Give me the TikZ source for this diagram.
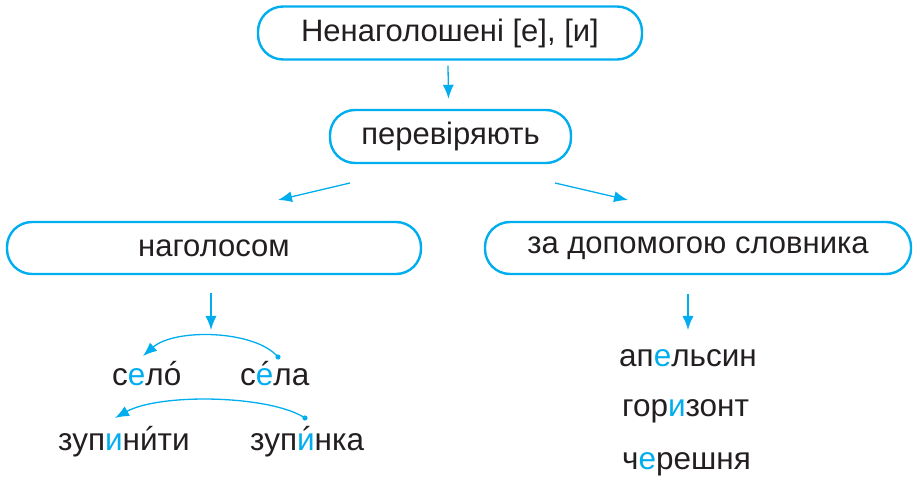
\documentclass[tikz,border=0pt]{standalone}
\usepackage{fontspec}
\setmainfont{Liberation Sans}
\usetikzlibrary{arrows.meta,calc}
\definecolor{cy}{RGB}{0,174,239}
\definecolor{txt}{RGB}{35,31,32}
\newcommand\stress[1]{\setbox0\hbox{#1}\rlap{\hbox to\wd0{\hfil\kern3pt{\color{txt}\raisebox{1pt}{\char"00B4}}\hfil}}\box0}
\newcommand\bl[1]{\textcolor{cy}{#1}}
\begin{document}
\begin{tikzpicture}[x=1pt,y=-1pt,
  box/.style={draw=cy, line width=2.4pt, rounded corners=25pt, text=txt,
    font=\fontsize{31}{36}\selectfont, inner sep=0pt, minimum height=53pt},
  arr/.style={draw=cy, line width=1.3pt, -{Latex[length=14pt,width=11pt]}},
  word/.style={text=txt, font=\fontsize{31.5}{36}\selectfont, inner sep=0pt, anchor=base west}]
\useasboundingbox (0,0) rectangle (914,478);
\node[box, minimum width=384pt] (top) at (450,33) {Ненаголошені [е], [и]};
\node[box, minimum width=241pt] (per) at (450.5,136.5) {перевіряють};
\node[box, minimum width=414pt, minimum height=52pt] (nag) at (214,248) {наголосом};
\node[box, minimum width=426pt, minimum height=52pt] (dict) at (698,248) {за допомогою словника};
% arrows
\draw[arr] ($(top.south)+(-2,5)$) -- ($(per.north)+(-2,-10)$);
\coordinate (l1) at (350,183); \coordinate (l2) at (278,200);
\coordinate (r1) at (555,183); \coordinate (r2) at (628,200);
\draw[arr] (l1) -- (l2);
\draw[arr] (r1) -- (r2);
\coordinate (ld1) at (211,293); \coordinate (ld2) at (211,330);
\coordinate (rd1) at (688,294); \coordinate (rd2) at (688,330);
\draw[arr] (ld1) -- (ld2);
\draw[arr] (rd1) -- (rd2);
% words left
\node[word] (selo) at (112,386) {с\bl{е}л\stress{о}};
\node[word] (sela) at (240,386) {с\stress{\bl{е}}ла};
\node[word] (zupynyty) at (58,451) {зуп\bl{и}н\stress{и}ти};
\node[word] (zupynka) at (250,451) {зуп\stress{\bl{и}}нка};
% words right
\node[word] (apel) at (619,367) {ап\bl{е}льсин};
\node[word] (gor) at (622,417) {гор\bl{и}зонт};
\node[word] (cher) at (622,470) {ч\bl{е}решня};
% arcs
\coordinate (d1) at (278,357); \coordinate (e1) at (143,356);
\coordinate (d2) at (305,418); \coordinate (e2) at (115,418);
\fill[cy] (d1) circle (2.6);
\fill[cy] (d2) circle (2.6);
\draw[arr] (d1) .. controls (255,330) and (175,328) .. (e1);
\draw[arr] (d2) .. controls (270,395) and (160,393) .. (e2);
\end{tikzpicture}
\end{document}
